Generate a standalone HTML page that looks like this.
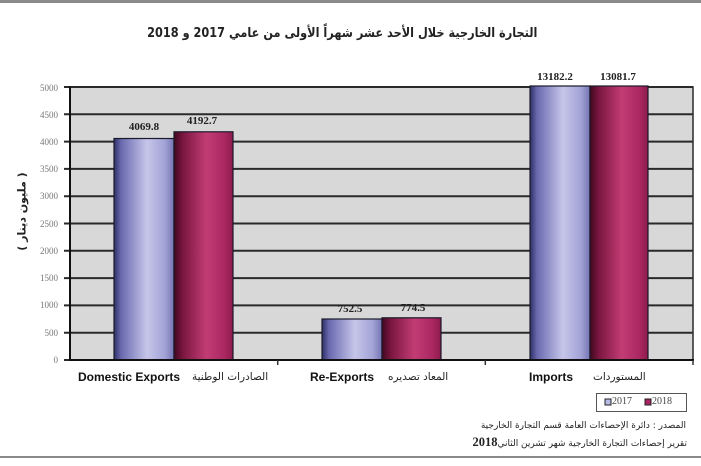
<!DOCTYPE html>
<html>
<head>
<meta charset="utf-8">
<style>
html,body{margin:0;padding:0;background:#fff;}
body{width:701px;height:466px;position:relative;overflow:hidden;}
.t{position:absolute;white-space:nowrap;}
.ar{font-family:"DejaVu Sans","Liberation Serif",serif;direction:rtl;}
</style>
</head>
<body>
<svg width="701" height="466" viewBox="0 0 701 466" style="position:absolute;left:0;top:0">
<defs>
<linearGradient id="gb" x1="0" x2="1" y1="0" y2="0">
<stop offset="0" stop-color="#2e2e66"/>
<stop offset="0.12" stop-color="#6a6ab0"/>
<stop offset="0.55" stop-color="#c6c6ea"/>
<stop offset="0.85" stop-color="#a2a2d6"/>
<stop offset="1" stop-color="#7474b4"/>
</linearGradient>
<linearGradient id="gr" x1="0" x2="1" y1="0" y2="0">
<stop offset="0" stop-color="#40081e"/>
<stop offset="0.15" stop-color="#7a1640"/>
<stop offset="0.55" stop-color="#c23c74"/>
<stop offset="0.85" stop-color="#ac2862"/>
<stop offset="1" stop-color="#8c1a4c"/>
</linearGradient>
</defs>
<!-- page borders -->
<rect x="0" y="0" width="701" height="3" fill="#8a8a8a"/>
<rect x="0" y="456" width="701" height="2" fill="#8a8a8a"/>
<!-- plot background -->
<rect x="70" y="87" width="623" height="273" fill="#d8d8d8"/>
<!-- gridlines -->
<g stroke="#2a2a2a" stroke-width="2">
<line x1="64" x2="693" y1="332.7" y2="332.7"/>
<line x1="64" x2="693" y1="305.4" y2="305.4"/>
<line x1="64" x2="693" y1="278.1" y2="278.1"/>
<line x1="64" x2="693" y1="250.8" y2="250.8"/>
<line x1="64" x2="693" y1="223.5" y2="223.5"/>
<line x1="64" x2="693" y1="196.2" y2="196.2"/>
<line x1="64" x2="693" y1="168.9" y2="168.9"/>
<line x1="64" x2="693" y1="141.6" y2="141.6"/>
<line x1="64" x2="693" y1="114.3" y2="114.3"/>
<line x1="64" x2="693" y1="87" y2="87"/>
<line x1="64" x2="70" y1="360" y2="360"/>
</g>
<!-- plot border -->
<rect x="70" y="87" width="623" height="273" fill="none" stroke="#2a2a2a" stroke-width="1.5"/>
<!-- bars -->
<g stroke="#1a1a2a" stroke-width="1.2">
<rect x="114" y="138.5" width="60" height="221.5" fill="url(#gb)"/>
<rect x="174" y="131.8" width="59" height="228.2" fill="url(#gr)"/>
<rect x="322" y="319" width="60" height="41" fill="url(#gb)"/>
<rect x="382" y="317.8" width="59" height="42.2" fill="url(#gr)"/>
<rect x="530" y="86" width="60" height="274" fill="url(#gb)"/>
<rect x="590" y="86" width="58" height="274" fill="url(#gr)"/>
</g>
<!-- axes -->
<line x1="70" x2="70" y1="86" y2="361" stroke="#111" stroke-width="2"/>
<line x1="69" x2="694" y1="360" y2="360" stroke="#111" stroke-width="2"/>
<g stroke="#333" stroke-width="1.5">
<line x1="277.7" x2="277.7" y1="360" y2="365"/>
<line x1="485.3" x2="485.3" y1="360" y2="365"/>
<line x1="693" x2="693" y1="360" y2="365"/>
</g>
<!-- legend -->
<rect x="596.5" y="393.5" width="90" height="18" fill="#fff" stroke="#555" stroke-width="1"/>
<rect x="605" y="399" width="6" height="6" fill="#b8b8e4" stroke="#222" stroke-width="1"/>
<rect x="645" y="399" width="6" height="6" fill="#a82460" stroke="#222" stroke-width="1"/>
</svg>

<!-- title -->
<div class="t ar" style="left:126px;top:26px;width:440px;text-align:center;font-size:13px;font-weight:bold;color:#222;transform:scaleX(0.87);transform-origin:220px 50%;">التجارة الخارجية خلال الأحد عشر شهراً الأولى من عامي 2017 و 2018</div>

<!-- y tick labels -->
<div style="position:absolute;left:28px;top:0;width:30px;font:9px 'Liberation Serif',serif;color:#777;text-align:right;">
<div class="t" style="right:0;top:83px">5000</div>
<div class="t" style="right:0;top:110px">4500</div>
<div class="t" style="right:0;top:137px">4000</div>
<div class="t" style="right:0;top:164px">3500</div>
<div class="t" style="right:0;top:191px">3000</div>
<div class="t" style="right:0;top:219px">2500</div>
<div class="t" style="right:0;top:246px">2000</div>
<div class="t" style="right:0;top:273px">1500</div>
<div class="t" style="right:0;top:300px">1000</div>
<div class="t" style="right:0;top:328px">500</div>
<div class="t" style="right:0;top:355px">0</div>
</div>

<!-- y axis label -->
<div class="t ar" style="left:-18px;top:205px;width:80px;text-align:center;font-size:11px;font-weight:bold;color:#222;transform:rotate(-90deg);">( مليون دينار )</div>

<!-- data labels -->
<div style="font:bold 11px 'Liberation Serif',serif;color:#222;">
<div class="t" style="left:114px;top:121px;width:60px;text-align:center">4069.8</div>
<div class="t" style="left:172px;top:115px;width:60px;text-align:center">4192.7</div>
<div class="t" style="left:320px;top:303px;width:60px;text-align:center">752.5</div>
<div class="t" style="left:383px;top:302px;width:60px;text-align:center">774.5</div>
<div class="t" style="left:525px;top:71px;width:60px;text-align:center">13182.2</div>
<div class="t" style="left:588px;top:71px;width:60px;text-align:center">13081.7</div>
</div>

<!-- category labels -->
<div style="font:bold 12px 'Liberation Sans',sans-serif;color:#111;">
<div class="t" style="left:78px;top:370px">Domestic Exports</div>
<div class="t" style="left:310px;top:370px">Re-Exports</div>
<div class="t" style="left:529px;top:370px">Imports</div>
</div>
<div style="font-size:10.5px;color:#222;">
<div class="t ar" style="left:192px;top:371px;width:90px;text-align:left;">الصادرات الوطنية</div>
<div class="t ar" style="left:388px;top:371px;width:70px;text-align:left;">المعاد تصديره</div>
<div class="t ar" style="left:593px;top:371px;width:60px;text-align:left;">المستوردات</div>
</div>

<!-- legend text -->
<div class="t" style="left:612px;top:396px;font:10px 'Liberation Serif',serif;color:#444">2017</div>
<div class="t" style="left:652px;top:396px;font:10px 'Liberation Serif',serif;color:#444">2018</div>

<!-- source -->
<div class="t ar" style="left:460px;top:421px;width:226px;text-align:right;font-size:9px;color:#222;">المصدر : دائرة الإحصاءات العامة قسم التجارة الخارجية</div>
<div class="t ar" style="left:440px;top:435px;width:247px;text-align:right;font-size:9px;color:#222;">تقرير إحصاءات التجارة الخارجية شهر تشرين الثاني<b style="font-family:'Liberation Serif',serif;font-size:12.5px">2018</b></div>
</body>
</html>
